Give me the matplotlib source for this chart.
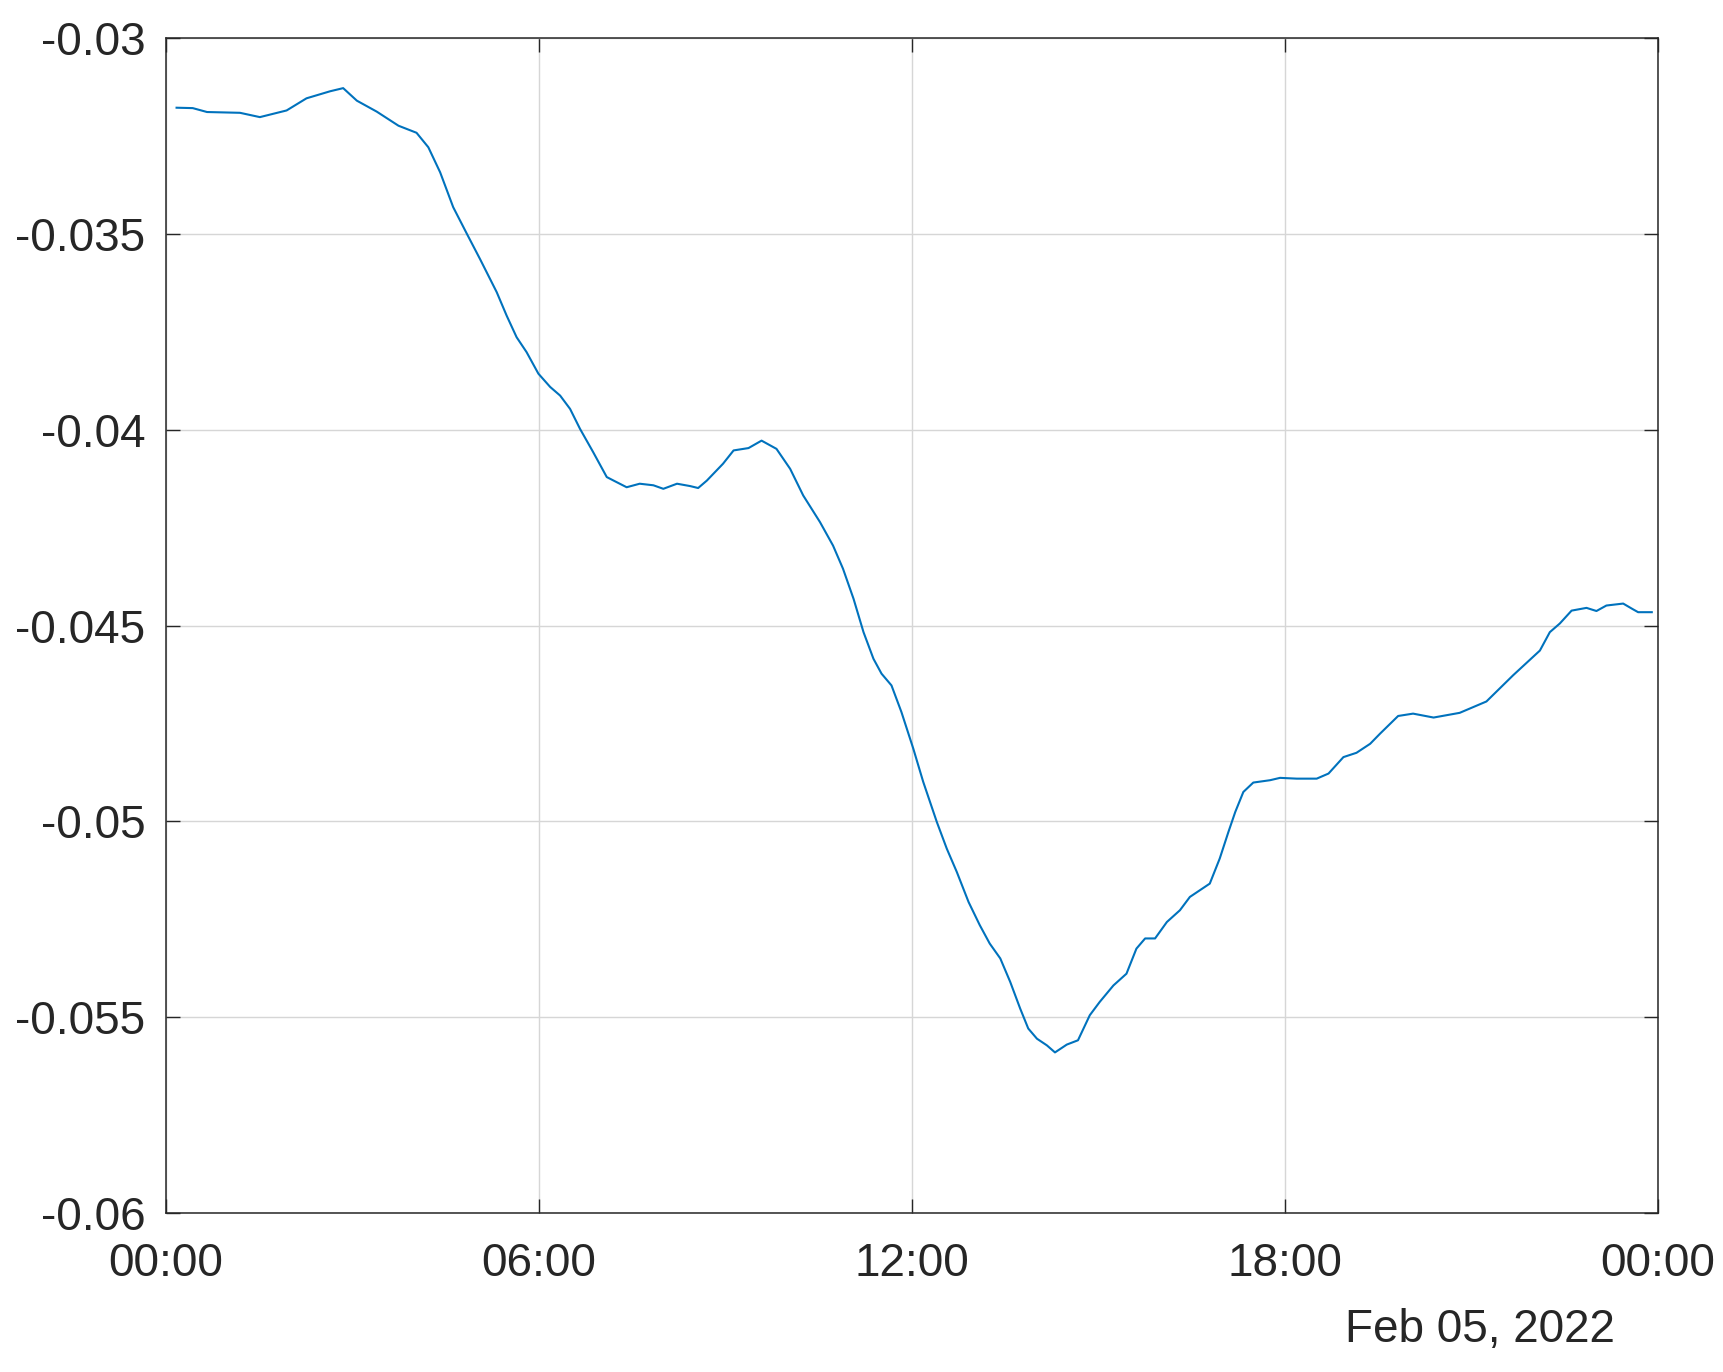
import datetime as dt
import numpy as np
import matplotlib
matplotlib.use("Agg")
import matplotlib.pyplot as plt
import matplotlib.dates as mdates

plt.rcParams['font.family'] = ['Liberation Sans', 'DejaVu Sans']

# hours after midnight, Feb 05 2022
hours = [0.17, 0.43, 0.66, 1.19, 1.51, 1.94, 2.26, 2.64, 2.85, 3.07, 3.39, 3.74,
         4.03, 4.22, 4.41, 4.62, 4.84, 5.05, 5.32, 5.48, 5.64, 5.80, 5.99, 6.18,
         6.34, 6.50, 6.66, 6.87, 7.09, 7.20, 7.41, 7.62, 7.84, 8.00, 8.22, 8.43,
         8.56, 8.70, 8.96, 9.13, 9.37, 9.58, 9.82, 10.04, 10.25, 10.52, 10.73,
         10.89, 11.06, 11.22, 11.38, 11.51, 11.67, 11.83, 12.02, 12.18, 12.40,
         12.56, 12.72, 12.91, 13.09, 13.25, 13.42, 13.58, 13.74, 13.87, 14.01,
         14.17, 14.30, 14.49, 14.67, 14.86, 15.02, 15.24, 15.45, 15.61, 15.75,
         15.91, 16.10, 16.31, 16.47, 16.79, 16.95, 17.09, 17.20, 17.33, 17.49,
         17.76, 17.92, 18.19, 18.51, 18.70, 18.94, 19.15, 19.37, 19.53, 19.82,
         20.06, 20.39, 20.81, 21.24, 21.67, 22.10, 22.26, 22.42, 22.61, 22.85,
         23.01, 23.17, 23.44, 23.58, 23.68, 23.90]

values = [-0.03178, -0.03179, -0.03189, -0.03191, -0.03202, -0.03185, -0.03154,
          -0.03136, -0.03128, -0.03160, -0.03188, -0.03224, -0.03242, -0.03279,
          -0.03343, -0.03432, -0.03500, -0.03564, -0.03649, -0.03709, -0.03764,
          -0.03802, -0.03857, -0.03891, -0.03913, -0.03947, -0.03998, -0.04057,
          -0.04121, -0.04130, -0.04147, -0.04138, -0.04142, -0.04151, -0.04138,
          -0.04144, -0.04149, -0.04130, -0.04087, -0.04053, -0.04047, -0.04028,
          -0.04049, -0.04100, -0.04168, -0.04236, -0.04296, -0.04355, -0.04432,
          -0.04517, -0.04585, -0.04623, -0.04653, -0.04721, -0.04814, -0.04899,
          -0.05002, -0.05070, -0.05129, -0.05206, -0.05265, -0.05312, -0.05350,
          -0.05410, -0.05478, -0.05529, -0.05555, -0.05572, -0.05590, -0.05570,
          -0.05559, -0.05495, -0.05461, -0.05419, -0.05389, -0.05325, -0.05299,
          -0.05299, -0.05257, -0.05227, -0.05193, -0.05159, -0.05095, -0.05027,
          -0.04976, -0.04925, -0.04901, -0.04895, -0.04889, -0.04891, -0.04891,
          -0.04878, -0.04836, -0.04825, -0.04802, -0.04776, -0.04731, -0.04725,
          -0.04735, -0.04723, -0.04694, -0.04627, -0.04564, -0.04517, -0.04495,
          -0.04462, -0.04455, -0.04463, -0.04449, -0.04444, -0.04457, -0.04466,
          -0.04466]

y_ticks = [-0.06, -0.055, -0.05, -0.045, -0.04, -0.035, -0.03]
y_tick_labels = ['-0.06', '-0.055', '-0.05', '-0.045', '-0.04', '-0.035', '-0.03']
tick_hours = [0, 6, 12, 18, 24]
date_label = 'Feb 05, 2022'

day = dt.datetime(2022, 2, 5)
times = [day + dt.timedelta(hours=h) for h in hours]
tick_times = [day + dt.timedelta(hours=h) for h in tick_hours]

fig = plt.figure(figsize=(17.24, 13.72), dpi=100)
ax = fig.add_axes([166 / 1724, 1 - 1213 / 1372, 1492 / 1724, 1175 / 1372])

ax.plot(times, values, color='#0072BD', linewidth=1.5)

ax.set_xlim(tick_times[0], tick_times[-1])
ax.set_ylim(-0.06, -0.03)
ax.set_xticks(tick_times)
ax.xaxis.set_major_formatter(mdates.DateFormatter('%H:%M'))
ax.set_yticks(y_ticks)
ax.set_yticklabels(y_tick_labels)

ax.grid(True, color='#d6d6d6', linewidth=1.0)
ax.set_axisbelow(True)
for s in ax.spines.values():
    s.set_color('#262626')
    s.set_linewidth(1.1)

ax.tick_params(axis='both', direction='in', length=10, width=1.0, color='#262626',
               labelsize=33, labelcolor='#262626', top=True, right=True)
ax.tick_params(axis='y', pad=15)
ax.tick_params(axis='x', pad=21)

fig.text(1615 / 1724, 1 - 1342 / 1372, date_label, ha='right', va='baseline',
         fontsize=33, color='#262626')

fig.savefig('out.png', dpi=100)
